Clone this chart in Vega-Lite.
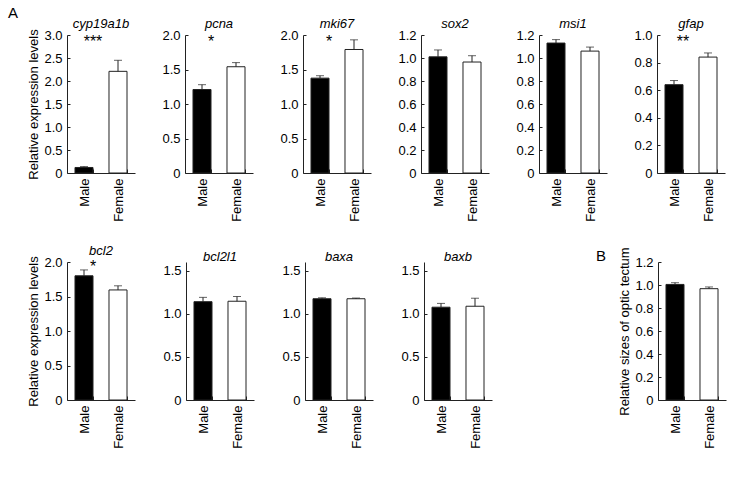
{
  "$schema": "https://vega.github.io/schema/vega-lite/v6.json",
  "padding": {"left": 7, "top": 5, "right": 5, "bottom": 5},
  "title": {"text": "A", "anchor": "start", "frame": "bounds", "fontSize": 15, "fontStyle": "normal", "dx": -20, "offset": -3},
  "datasets": {
    "d": [
      {"gene": "cyp19a1b", "sex": "Male", "value": 0.12, "err": 0.14},
      {"gene": "cyp19a1b", "sex": "Female", "value": 2.21, "err": 2.45},
      {"gene": "pcna", "sex": "Male", "value": 1.21, "err": 1.28},
      {"gene": "pcna", "sex": "Female", "value": 1.54, "err": 1.6},
      {"gene": "mki67", "sex": "Male", "value": 1.375, "err": 1.41},
      {"gene": "mki67", "sex": "Female", "value": 1.79, "err": 1.93},
      {"gene": "sox2", "sex": "Male", "value": 1.01, "err": 1.07},
      {"gene": "sox2", "sex": "Female", "value": 0.965, "err": 1.02},
      {"gene": "msi1", "sex": "Male", "value": 1.13, "err": 1.16},
      {"gene": "msi1", "sex": "Female", "value": 1.06, "err": 1.095},
      {"gene": "gfap", "sex": "Male", "value": 0.64, "err": 0.67},
      {"gene": "gfap", "sex": "Female", "value": 0.84, "err": 0.87},
      {"gene": "bcl2", "sex": "Male", "value": 1.8, "err": 1.885},
      {"gene": "bcl2", "sex": "Female", "value": 1.595, "err": 1.655},
      {"gene": "bcl2l1", "sex": "Male", "value": 1.14, "err": 1.19},
      {"gene": "bcl2l1", "sex": "Female", "value": 1.145, "err": 1.2},
      {"gene": "baxa", "sex": "Male", "value": 1.174, "err": 1.185},
      {"gene": "baxa", "sex": "Female", "value": 1.174, "err": 1.182},
      {"gene": "baxb", "sex": "Male", "value": 1.076, "err": 1.12},
      {"gene": "baxb", "sex": "Female", "value": 1.087, "err": 1.18},
      {"gene": "tectum", "sex": "Male", "value": 1.005, "err": 1.02},
      {"gene": "tectum", "sex": "Female", "value": 0.968, "err": 0.983}
    ],
    "stars": [
      {"gene": "cyp19a1b", "at": "Male", "label": "***", "y": 2.85},
      {"gene": "pcna", "at": "Male", "label": "*", "y": 1.9},
      {"gene": "mki67", "at": "Male", "label": "*", "y": 1.9},
      {"gene": "gfap", "at": "Male", "label": "**", "y": 0.95},
      {"gene": "bcl2", "at": "Male", "label": "*", "y": 1.93}
    ]
  },
  "data": {"name": "d"},
  "spacing": 22,
  "vconcat": [
    {
      "spacing": 26,
      "hconcat": [
        {
          "width": 68, "height": 138, "title": "cyp19a1b",
          "transform": [{"filter": "datum.gene === 'cyp19a1b'"}],
          "encoding": {"x": {"field": "sex", "type": "nominal", "scale": {"domain": ["Male", "Female"]}, "title": null}},
          "layer": [
            {"mark": {"type": "bar", "stroke": "#222", "strokeWidth": 1}, "encoding": {"y": {"field": "value", "type": "quantitative", "scale": {"domain": [0, 3]}, "title": "Relative expression levels", "axis": {"values": [0, 0.5, 1, 1.5, 2, 2.5, 3], "tickCount": 20, "labelOverlap": false, "labelExpr": "datum.value == 0 ? '0' : format(datum.value, '.1f')"}}, "fill": {"field": "sex", "type": "nominal", "scale": {"domain": ["Male", "Female"], "range": ["#000000", "#ffffff"]}, "legend": null}}},
            {"mark": {"type": "rule", "color": "#222"}, "encoding": {"y": {"field": "value", "type": "quantitative", "title": "Relative expression levels"}, "y2": {"field": "err"}}},
            {"mark": {"type": "tick", "color": "#222", "size": 8, "thickness": 1}, "encoding": {"y": {"field": "err", "type": "quantitative", "title": "Relative expression levels"}}},
            {"data": {"name": "stars"}, "transform": [{"filter": "datum.gene === 'cyp19a1b'"}], "mark": {"type": "text", "fontSize": 16, "baseline": "middle"}, "encoding": {"x": {"field": "at", "type": "nominal", "bandPosition": 1, "title": null}, "y": {"field": "y", "type": "quantitative", "title": "Relative expression levels"}, "text": {"field": "label"}}}
          ]
        },
        {
          "width": 68, "height": 138, "title": "pcna",
          "transform": [{"filter": "datum.gene === 'pcna'"}],
          "encoding": {"x": {"field": "sex", "type": "nominal", "scale": {"domain": ["Male", "Female"]}, "title": null}},
          "layer": [
            {"mark": {"type": "bar", "stroke": "#222", "strokeWidth": 1}, "encoding": {"y": {"field": "value", "type": "quantitative", "scale": {"domain": [0, 2]}, "title": null, "axis": {"values": [0, 0.5, 1, 1.5, 2], "tickCount": 20, "labelOverlap": false, "labelExpr": "datum.value == 0 ? '0' : format(datum.value, '.1f')"}}, "fill": {"field": "sex", "type": "nominal", "scale": {"domain": ["Male", "Female"], "range": ["#000000", "#ffffff"]}, "legend": null}}},
            {"mark": {"type": "rule", "color": "#222"}, "encoding": {"y": {"field": "value", "type": "quantitative", "title": null}, "y2": {"field": "err"}}},
            {"mark": {"type": "tick", "color": "#222", "size": 8, "thickness": 1}, "encoding": {"y": {"field": "err", "type": "quantitative", "title": null}}},
            {"data": {"name": "stars"}, "transform": [{"filter": "datum.gene === 'pcna'"}], "mark": {"type": "text", "fontSize": 16, "baseline": "middle"}, "encoding": {"x": {"field": "at", "type": "nominal", "bandPosition": 1, "title": null}, "y": {"field": "y", "type": "quantitative", "title": null}, "text": {"field": "label"}}}
          ]
        },
        {
          "width": 68, "height": 138, "title": "mki67",
          "transform": [{"filter": "datum.gene === 'mki67'"}],
          "encoding": {"x": {"field": "sex", "type": "nominal", "scale": {"domain": ["Male", "Female"]}, "title": null}},
          "layer": [
            {"mark": {"type": "bar", "stroke": "#222", "strokeWidth": 1}, "encoding": {"y": {"field": "value", "type": "quantitative", "scale": {"domain": [0, 2]}, "title": null, "axis": {"values": [0, 0.5, 1, 1.5, 2], "tickCount": 20, "labelOverlap": false, "labelExpr": "datum.value == 0 ? '0' : format(datum.value, '.1f')"}}, "fill": {"field": "sex", "type": "nominal", "scale": {"domain": ["Male", "Female"], "range": ["#000000", "#ffffff"]}, "legend": null}}},
            {"mark": {"type": "rule", "color": "#222"}, "encoding": {"y": {"field": "value", "type": "quantitative", "title": null}, "y2": {"field": "err"}}},
            {"mark": {"type": "tick", "color": "#222", "size": 8, "thickness": 1}, "encoding": {"y": {"field": "err", "type": "quantitative", "title": null}}},
            {"data": {"name": "stars"}, "transform": [{"filter": "datum.gene === 'mki67'"}], "mark": {"type": "text", "fontSize": 16, "baseline": "middle"}, "encoding": {"x": {"field": "at", "type": "nominal", "bandPosition": 1, "title": null}, "y": {"field": "y", "type": "quantitative", "title": null}, "text": {"field": "label"}}}
          ]
        },
        {
          "width": 68, "height": 138, "title": "sox2",
          "transform": [{"filter": "datum.gene === 'sox2'"}],
          "encoding": {"x": {"field": "sex", "type": "nominal", "scale": {"domain": ["Male", "Female"]}, "title": null}},
          "layer": [
            {"mark": {"type": "bar", "stroke": "#222", "strokeWidth": 1}, "encoding": {"y": {"field": "value", "type": "quantitative", "scale": {"domain": [0, 1.2]}, "title": null, "axis": {"values": [0, 0.2, 0.4, 0.6, 0.8, 1, 1.2], "tickCount": 20, "labelOverlap": false, "labelExpr": "datum.value == 0 ? '0' : format(datum.value, '.1f')"}}, "fill": {"field": "sex", "type": "nominal", "scale": {"domain": ["Male", "Female"], "range": ["#000000", "#ffffff"]}, "legend": null}}},
            {"mark": {"type": "rule", "color": "#222"}, "encoding": {"y": {"field": "value", "type": "quantitative", "title": null}, "y2": {"field": "err"}}},
            {"mark": {"type": "tick", "color": "#222", "size": 8, "thickness": 1}, "encoding": {"y": {"field": "err", "type": "quantitative", "title": null}}}
          ]
        },
        {
          "width": 68, "height": 138, "title": "msi1",
          "transform": [{"filter": "datum.gene === 'msi1'"}],
          "encoding": {"x": {"field": "sex", "type": "nominal", "scale": {"domain": ["Male", "Female"]}, "title": null}},
          "layer": [
            {"mark": {"type": "bar", "stroke": "#222", "strokeWidth": 1}, "encoding": {"y": {"field": "value", "type": "quantitative", "scale": {"domain": [0, 1.2]}, "title": null, "axis": {"values": [0, 0.2, 0.4, 0.6, 0.8, 1, 1.2], "tickCount": 20, "labelOverlap": false, "labelExpr": "datum.value == 0 ? '0' : format(datum.value, '.1f')"}}, "fill": {"field": "sex", "type": "nominal", "scale": {"domain": ["Male", "Female"], "range": ["#000000", "#ffffff"]}, "legend": null}}},
            {"mark": {"type": "rule", "color": "#222"}, "encoding": {"y": {"field": "value", "type": "quantitative", "title": null}, "y2": {"field": "err"}}},
            {"mark": {"type": "tick", "color": "#222", "size": 8, "thickness": 1}, "encoding": {"y": {"field": "err", "type": "quantitative", "title": null}}}
          ]
        },
        {
          "width": 68, "height": 138, "title": "gfap",
          "transform": [{"filter": "datum.gene === 'gfap'"}],
          "encoding": {"x": {"field": "sex", "type": "nominal", "scale": {"domain": ["Male", "Female"]}, "title": null}},
          "layer": [
            {"mark": {"type": "bar", "stroke": "#222", "strokeWidth": 1}, "encoding": {"y": {"field": "value", "type": "quantitative", "scale": {"domain": [0, 1]}, "title": null, "axis": {"values": [0, 0.2, 0.4, 0.6, 0.8, 1], "tickCount": 20, "labelOverlap": false, "labelExpr": "datum.value == 0 ? '0' : format(datum.value, '.1f')"}}, "fill": {"field": "sex", "type": "nominal", "scale": {"domain": ["Male", "Female"], "range": ["#000000", "#ffffff"]}, "legend": null}}},
            {"mark": {"type": "rule", "color": "#222"}, "encoding": {"y": {"field": "value", "type": "quantitative", "title": null}, "y2": {"field": "err"}}},
            {"mark": {"type": "tick", "color": "#222", "size": 8, "thickness": 1}, "encoding": {"y": {"field": "err", "type": "quantitative", "title": null}}},
            {"data": {"name": "stars"}, "transform": [{"filter": "datum.gene === 'gfap'"}], "mark": {"type": "text", "fontSize": 16, "baseline": "middle"}, "encoding": {"x": {"field": "at", "type": "nominal", "bandPosition": 1, "title": null}, "y": {"field": "y", "type": "quantitative", "title": null}, "text": {"field": "label"}}}
          ]
        }
      ]
    },
    {
      "spacing": 27,
      "hconcat": [
        {
          "width": 68, "height": 138, "title": "bcl2",
          "transform": [{"filter": "datum.gene === 'bcl2'"}],
          "encoding": {"x": {"field": "sex", "type": "nominal", "scale": {"domain": ["Male", "Female"]}, "title": null}},
          "layer": [
            {"mark": {"type": "bar", "stroke": "#222", "strokeWidth": 1}, "encoding": {"y": {"field": "value", "type": "quantitative", "scale": {"domain": [0, 2]}, "title": "Relative expression levels", "axis": {"values": [0, 0.5, 1, 1.5, 2], "tickCount": 20, "labelOverlap": false, "labelExpr": "datum.value == 0 ? '0' : format(datum.value, '.1f')"}}, "fill": {"field": "sex", "type": "nominal", "scale": {"domain": ["Male", "Female"], "range": ["#000000", "#ffffff"]}, "legend": null}}},
            {"mark": {"type": "rule", "color": "#222"}, "encoding": {"y": {"field": "value", "type": "quantitative", "title": "Relative expression levels"}, "y2": {"field": "err"}}},
            {"mark": {"type": "tick", "color": "#222", "size": 8, "thickness": 1}, "encoding": {"y": {"field": "err", "type": "quantitative", "title": "Relative expression levels"}}},
            {"data": {"name": "stars"}, "transform": [{"filter": "datum.gene === 'bcl2'"}], "mark": {"type": "text", "fontSize": 16, "baseline": "middle"}, "encoding": {"x": {"field": "at", "type": "nominal", "bandPosition": 1, "title": null}, "y": {"field": "y", "type": "quantitative", "title": "Relative expression levels"}, "text": {"field": "label"}}}
          ]
        },
        {
          "width": 68, "height": 138, "title": "bcl2l1",
          "transform": [{"filter": "datum.gene === 'bcl2l1'"}],
          "encoding": {"x": {"field": "sex", "type": "nominal", "scale": {"domain": ["Male", "Female"]}, "title": null}},
          "layer": [
            {"mark": {"type": "bar", "stroke": "#222", "strokeWidth": 1}, "encoding": {"y": {"field": "value", "type": "quantitative", "scale": {"domain": [0, 1.5]}, "title": null, "axis": {"values": [0, 0.5, 1, 1.5], "tickCount": 20, "labelOverlap": false, "labelExpr": "datum.value == 0 ? '0' : format(datum.value, '.1f')"}}, "fill": {"field": "sex", "type": "nominal", "scale": {"domain": ["Male", "Female"], "range": ["#000000", "#ffffff"]}, "legend": null}}},
            {"mark": {"type": "rule", "color": "#222"}, "encoding": {"y": {"field": "value", "type": "quantitative", "title": null}, "y2": {"field": "err"}}},
            {"mark": {"type": "tick", "color": "#222", "size": 8, "thickness": 1}, "encoding": {"y": {"field": "err", "type": "quantitative", "title": null}}}
          ]
        },
        {
          "width": 68, "height": 138, "title": "baxa",
          "transform": [{"filter": "datum.gene === 'baxa'"}],
          "encoding": {"x": {"field": "sex", "type": "nominal", "scale": {"domain": ["Male", "Female"]}, "title": null}},
          "layer": [
            {"mark": {"type": "bar", "stroke": "#222", "strokeWidth": 1}, "encoding": {"y": {"field": "value", "type": "quantitative", "scale": {"domain": [0, 1.5]}, "title": null, "axis": {"values": [0, 0.5, 1, 1.5], "tickCount": 20, "labelOverlap": false, "labelExpr": "datum.value == 0 ? '0' : format(datum.value, '.1f')"}}, "fill": {"field": "sex", "type": "nominal", "scale": {"domain": ["Male", "Female"], "range": ["#000000", "#ffffff"]}, "legend": null}}},
            {"mark": {"type": "rule", "color": "#222"}, "encoding": {"y": {"field": "value", "type": "quantitative", "title": null}, "y2": {"field": "err"}}},
            {"mark": {"type": "tick", "color": "#222", "size": 8, "thickness": 1}, "encoding": {"y": {"field": "err", "type": "quantitative", "title": null}}}
          ]
        },
        {
          "width": 68, "height": 138, "title": "baxb",
          "transform": [{"filter": "datum.gene === 'baxb'"}],
          "encoding": {"x": {"field": "sex", "type": "nominal", "scale": {"domain": ["Male", "Female"]}, "title": null}},
          "layer": [
            {"mark": {"type": "bar", "stroke": "#222", "strokeWidth": 1}, "encoding": {"y": {"field": "value", "type": "quantitative", "scale": {"domain": [0, 1.5]}, "title": null, "axis": {"values": [0, 0.5, 1, 1.5], "tickCount": 20, "labelOverlap": false, "labelExpr": "datum.value == 0 ? '0' : format(datum.value, '.1f')"}}, "fill": {"field": "sex", "type": "nominal", "scale": {"domain": ["Male", "Female"], "range": ["#000000", "#ffffff"]}, "legend": null}}},
            {"mark": {"type": "rule", "color": "#222"}, "encoding": {"y": {"field": "value", "type": "quantitative", "title": null}, "y2": {"field": "err"}}},
            {"mark": {"type": "tick", "color": "#222", "size": 8, "thickness": 1}, "encoding": {"y": {"field": "err", "type": "quantitative", "title": null}}}
          ]
        },
        {
          "width": 49, "height": 138,
          "data": {"values": []},
          "mark": "point"
        },
        {
          "width": 68, "height": 138,
          "title": {"text": "B", "anchor": "start", "frame": "bounds", "fontSize": 15, "fontStyle": "normal", "dx": -23, "offset": -17},
          "transform": [{"filter": "datum.gene === 'tectum'"}],
          "encoding": {"x": {"field": "sex", "type": "nominal", "scale": {"domain": ["Male", "Female"]}, "title": null}},
          "layer": [
            {"mark": {"type": "bar", "stroke": "#222", "strokeWidth": 1}, "encoding": {"y": {"field": "value", "type": "quantitative", "scale": {"domain": [0, 1.2]}, "title": "Relative sizes of optic tectum", "axis": {"values": [0, 0.2, 0.4, 0.6, 0.8, 1, 1.2], "tickCount": 20, "labelOverlap": false, "labelExpr": "datum.value == 0 ? '0' : format(datum.value, '.1f')"}}, "fill": {"field": "sex", "type": "nominal", "scale": {"domain": ["Male", "Female"], "range": ["#000000", "#ffffff"]}, "legend": null}}},
            {"mark": {"type": "rule", "color": "#222"}, "encoding": {"y": {"field": "value", "type": "quantitative", "title": "Relative sizes of optic tectum"}, "y2": {"field": "err"}}},
            {"mark": {"type": "tick", "color": "#222", "size": 8, "thickness": 1}, "encoding": {"y": {"field": "err", "type": "quantitative", "title": "Relative sizes of optic tectum"}}}
          ]
        }
      ]
    }
  ],
  "config": {
    "font": "Liberation Sans",
    "background": "#ffffff",
    "view": {"stroke": null},
    "scale": {"bandPaddingInner": 0.47, "bandPaddingOuter": 0.235},
    "title": {"font": "Liberation Sans", "fontSize": 13, "fontStyle": "italic", "fontWeight": "normal", "color": "#000", "offset": -2},
    "axis": {"grid": false, "domainColor": "#222", "tickColor": "#222", "labelColor": "#000", "titleColor": "#000", "labelFont": "Liberation Sans", "titleFont": "Liberation Sans", "labelFontSize": 13, "titleFontSize": 13, "titleFontWeight": "normal", "domainWidth": 1, "tickWidth": 1},
    "axisY": {"tickSize": -3, "labelPadding": 8, "titlePadding": 3, "labelOverlap": false},
    "axisX": {"tickSize": -4, "labelPadding": 9, "labelAngle": -90, "tickBand": "extent"}
  }
}
